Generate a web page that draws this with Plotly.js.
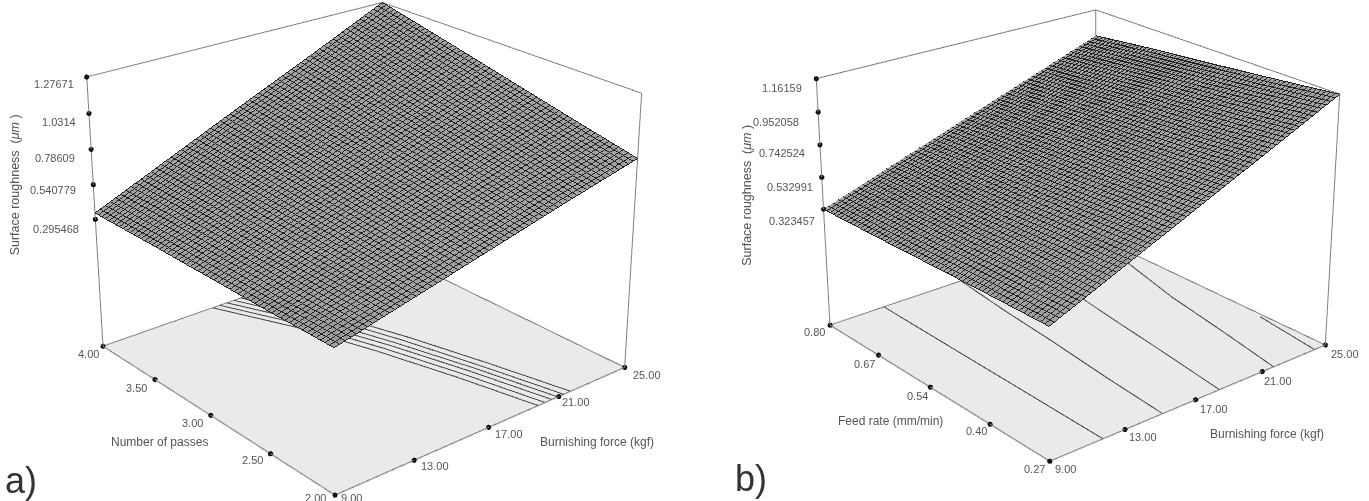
<!DOCTYPE html>
<html><head><meta charset="utf-8">
<script src="https://cdn.plot.ly/plotly-3.0.1.min.js"></script>
<style>html,body{margin:0;padding:0;background:#fff;overflow:hidden;width:1369px;height:501px}
#wrap{position:absolute;left:0;top:0;width:1369px;height:501px;overflow:hidden}
#plot{position:absolute;left:0;top:-575px;width:1500px;height:1600px}
#plot canvas{filter:blur(0.5px)}</style>
</head><body><div id="wrap"><div id="plot"></div></div>
<script>
var forceTicks=[9,13,17,21,25];
var forceLabels=['9.00','13.00','17.00','21.00','25.00'];
var passesTicks=[2,2.5,3,3.5,4];
var passesLabels=['2.00','2.50','3.00','3.50','4.00'];
var feedTicks=[0.27,0.40,0.54,0.67,0.80];
var feedLabels=['0.27','0.40','0.54','0.67','0.80'];
var zTicksA=[0.295468,0.540779,0.78609,1.0314,1.27671];
var zLabelsA=['0.295468','0.540779','0.78609','1.0314','1.27671'];
var zTicksB=[0.323457,0.532991,0.742524,0.952058,1.16159];
var zLabelsB=['0.323457','0.532991','0.742524','0.952058','1.16159'];
var roughA=[[0.33,0.46,0.59,0.72,0.843],[0.33,0.49,0.645,0.80,0.95],[0.335,0.52,0.70,0.88,1.06],[0.34,0.55,0.755,0.96,1.17],[0.34,0.575,0.81,1.04,1.277]];
var roughB=[[0.355,0.556,0.757,0.958,1.16],[0.35,0.54,0.73,0.92,1.115],[0.34,0.52,0.705,0.89,1.07],[0.33,0.505,0.68,0.855,1.03],[0.323,0.49,0.655,0.82,0.984]];
var contoursA=[[19.8,18.9,17.85,16.6,14.9],[20.2,19.3,18.25,17.0,15.3],[20.6,19.7,18.65,17.4,15.7],[20.95,20.05,19.0,17.8,16.1],[21.3,20.4,19.4,18.2,16.5],[21.7,20.8,19.8,18.6,16.9]];
var contoursB=[[11.8,11.85,11.9,11.95,12.0],[15.1,15.4,15.8,16.1,16.5],[18.4,18.9,19.4,19.9,20.4],[21.7,22.4,23.1,24.0,24.8],[24.3,24.8,null,null,null]];
var floorZA=-0.634, floorZB=-0.462;
var shiftsA={x:[[17,-3],[21,-6],[20,-7],[17,-6],[22,-8]],y:[[-19,-3],[-18,-6],[-18,-8],[-19,-8],[-15,-8]],z:[[-39,-10],[-40,-5],[-36,-9],[-30,-9],[-33,-7]],yt:[-51,-27],xt:[108,-15],zt:[-76,-36]};
var shiftsB={x:[[16,-8],[18,-8],[18,-9],[16,-9],[20,-9]],y:[[-15,-8],[-14,-7],[-13,-9],[-14,-9],[-16,-7]],z:[[-32,-12],[-32,-10],[-38,-8],[-42,-10],[-34,-9]],yt:[-40,-34],xt:[71,-34],zt:[-73,-50]};

function frame(xT,yT,z0,z1){
  var x0=xT[0],x1=xT[4],y0=yT[0],y1=yT[4];
  return {x:[x0,x0,x1,x1,x1,null,x1,x1,null,x0,x1,x1,x0,x0],
          y:[y1,y1,y1,y0,y0,null,y1,y1,null,y0,y0,y1,y1,y0],
          z:[z0,z1,z1,z1,z0,null,z1,z0,null,z0,z0,z0,z0,z0]};
}
function build(scene,xT,yT,zT,zF,rough,cVals){
  var out=[];
  var fr=frame(xT,yT,zF,zT[4]);
  out.push({type:'scatter3d',scene:scene,mode:'lines',x:fr.x,y:fr.y,z:fr.z,line:{color:'#808080',width:2},connectgaps:false,hoverinfo:'skip',showlegend:false});
  cVals.forEach(function(c){
    out.push({type:'scatter3d',scene:scene,mode:'lines',x:c,y:yT,z:yT.map(function(){return zF;}),line:{color:'#444',width:2},hoverinfo:'skip',showlegend:false});
  });
  out.push({type:'scatter3d',scene:scene,mode:'markers',
    x:xT.concat(yT.map(function(){return xT[0];}),zT.map(function(){return xT[0];})),
    y:xT.map(function(){return yT[0];}).concat(yT,zT.map(function(){return yT[4];})),
    z:xT.map(function(){return zF;}).concat(yT.map(function(){return zF;}),zT),
    marker:{color:'#111',size:3},hoverinfo:'skip',showlegend:false});
  out.push({type:'surface',scene:scene,x:xT,y:yT,z:rough,showscale:false,hoverinfo:'skip',
    colorscale:[[0,'#989898'],[1,'#989898']],opacity:0.9,
    lighting:{ambient:1,diffuse:0,specular:0,fresnel:0},
    contours:{x:{show:true,start:xT[0],end:xT[4],size:(xT[4]-xT[0])/60,color:'#222',width:1,highlight:false},
              y:{show:true,start:yT[0],end:yT[4],size:(yT[4]-yT[0])/60,color:'#222',width:1,highlight:false},
              z:{highlight:false}}});
  return out;
}
function hiddenAxis(r){return {range:r,showgrid:false,zeroline:false,showline:false,showticklabels:false,ticks:'',showspikes:false,showbackground:false,title:{text:''}};}
function tf(s){return {family:'Liberation Sans, Arial, sans-serif',size:s,color:'#555'};}
function ann(x,y,z,text,sh,size,extra){var a={x:x,y:y,z:z,text:text,showarrow:false,font:tf(size),xshift:sh[0],yshift:sh[1]};if(extra)for(var k in extra)a[k]=extra[k];return a;}
function annots(xT,xL,yT,yL,zT,zL,zF,yTitle,S){
  var a=[];
  xT.forEach(function(v,i){a.push(ann(v,yT[0],zF,xL[i],S.x[i],11));});
  yT.forEach(function(v,i){a.push(ann(xT[0],v,zF,yL[i],S.y[i],11));});
  zT.forEach(function(v,i){a.push(ann(xT[0],yT[4],v,zL[i],S.z[i],11));});
  a.push(ann(xT[0],yT[2],zF,yTitle,S.yt,12));
  a.push(ann(xT[2],yT[0],zF,'Burnishing force (kgf)',S.xt,12));
  a.push(ann(xT[0],yT[4],zT[2],'Surface roughness  (<i>μm</i> )',S.zt,12.5,{textangle:-90}));
  return a;
}
function sceneLayout(domX,domY,eye,ar,xT,yT,zT,zF,anns){
  var dx=(xT[4]-xT[0])*0.002,dy=(yT[4]-yT[0])*0.002,dz=(zT[4]-zF)*0.004;
  var s={domain:{x:domX,y:domY},aspectmode:'manual',aspectratio:{x:ar[0],y:ar[1],z:ar[2]},
    camera:{eye:{x:eye[0],y:eye[1],z:eye[2]},center:{x:0,y:0,z:0},up:{x:0,y:0,z:1},projection:{type:'perspective'}},
    xaxis:hiddenAxis([xT[0]-dx,xT[4]+dx]),yaxis:hiddenAxis([yT[0]-dy,yT[4]+dy]),zaxis:hiddenAxis([zF-dz,zT[4]+dz]),annotations:anns,bgcolor:'#fff'};
  s.zaxis.showbackground=true;s.zaxis.backgroundcolor='#e8eaec';
  return s;
}
var data=build('scene',forceTicks,passesTicks,zTicksA,floorZA,roughA,contoursA)
 .concat(build('scene2',forceTicks,feedTicks,zTicksB,floorZB,roughB,contoursB));
var annA=annots(forceTicks,forceLabels,passesTicks,passesLabels,zTicksA,zLabelsA,floorZA,'Number of passes',shiftsA);
var annB=annots(forceTicks,forceLabels,feedTicks,feedLabels,zTicksB,zLabelsB,floorZB,'Feed rate (mm/min)',shiftsB);
var W=1500,H=1600,T=575;
function py(Y){return (H-(Y+T))/H;}
var layout={width:W,height:H,margin:{l:0,r:0,t:0,b:0},paper_bgcolor:'#fff',showlegend:false,
 scene:sceneLayout([0,722/W],[0,1],[-2.966,-3.534,2.03],[1,1,0.78],forceTicks,passesTicks,zTicksA,floorZA,annA),
 scene2:sceneLayout([745/W,1405/W],[22/H,1],[-3.10,-3.71,2.05],[1,1,0.75],forceTicks,feedTicks,zTicksB,floorZB,annB),
 annotations:[
  {xref:'paper',yref:'paper',x:3/W,y:py(480),text:'a)',showarrow:false,xanchor:'left',yanchor:'middle',font:{family:'Liberation Sans, Arial',size:36,color:'#333'}},
  {xref:'paper',yref:'paper',x:733/W,y:py(478),text:'b)',showarrow:false,xanchor:'left',yanchor:'middle',font:{family:'Liberation Sans, Arial',size:36,color:'#333'}}
 ]};
Plotly.newPlot('plot',data,layout,{displayModeBar:false,plotGlPixelRatio:1});
</script></body></html>
